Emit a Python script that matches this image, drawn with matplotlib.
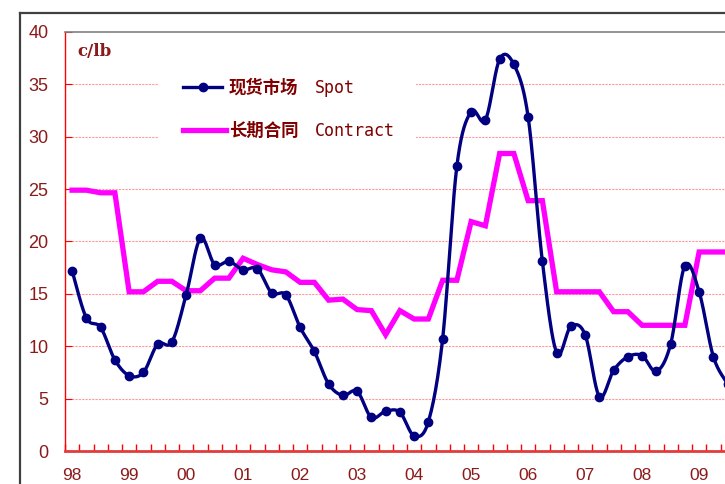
import numpy as np
import matplotlib
matplotlib.use("Agg")
import matplotlib.pyplot as plt
from matplotlib import font_manager
from matplotlib.lines import Line2D
from matplotlib.patches import Rectangle

# ---------------- data ----------------
years = ["98", "99", "00", "01", "02", "03", "04", "05", "06", "07", "08", "09"]
spot = [17.2, 12.7, 11.8, 8.7,
        7.2, 7.5, 10.2, 10.4,
        14.9, 20.3, 17.8, 18.1,
        17.3, 17.4, 15.1, 14.9,
        11.8, 9.5, 6.4, 5.3,
        5.7, 3.2, 3.8, 3.7,
        1.45, 2.8, 10.7, 27.2,
        32.4, 31.6, 37.4, 36.9,
        31.9, 18.1, 9.4, 11.9,
        11.1, 5.2, 7.7, 9.0,
        9.1, 7.6, 10.2, 17.7,
        15.2, 9.0, 6.4]
contract = [24.9, 24.9, 24.65, 24.65,
            15.2, 15.2, 16.2, 16.2,
            15.3, 15.3, 16.5, 16.5,
            18.4, 17.8, 17.3, 17.1,
            16.1, 16.1, 14.4, 14.5,
            13.5, 13.4, 11.1, 13.4,
            12.6, 12.6, 16.3, 16.3,
            21.9, 21.5, 28.4, 28.4,
            23.9, 23.9, 15.2, 15.2,
            15.2, 15.2, 13.3, 13.3,
            12.0, 12.0, 12.0, 12.0,
            19.0, 19.0, 19.0]
yticks = [0, 5, 10, 15, 20, 25, 30, 35, 40]
unit_label = "c/lb"
spot_label_cn, spot_label_en = "现货市场", "Spot"
con_label_cn, con_label_en = "长期合同", "Contract"

# ---------------- fonts ----------------
avail = {f.name for f in font_manager.fontManager.ttflist}
if "Liberation Sans Narrow" in avail:
    narrow = "Liberation Sans Narrow"
elif "Liberation Sans" in avail:
    narrow = "Liberation Sans"
else:
    narrow = "DejaVu Sans"

W, H = 725, 484
fig = plt.figure(figsize=(W / 100, H / 100), dpi=100)

def fx(px):
    return px / W

def fy(py):
    return 1 - py / H

n_cat = 48
ax_left, ax_top, ax_bottom = 65, 32, 451
cat_w = 14.25
ax = fig.add_axes([fx(ax_left), fy(ax_bottom), (n_cat * cat_w) / W, (ax_bottom - ax_top) / H])
ax.set_xlim(-0.5, n_cat - 0.5)
ax.set_ylim(0, 40)

# smoothed spot line (Excel-like smoothing through the data points)
def smooth(y, steps=20):
    y = np.asarray(y, float)
    x = np.arange(len(y), dtype=float)
    xs, ys = [], []
    for i in range(len(y) - 1):
        p0 = i - 1 if i > 0 else i
        p3 = i + 2 if i + 2 < len(y) else i + 1
        c1x = x[i] + (x[i + 1] - x[p0]) / 6
        c1y = y[i] + (y[i + 1] - y[p0]) / 6
        c2x = x[i + 1] - (x[p3] - x[i]) / 6
        c2y = y[i + 1] - (y[p3] - y[i]) / 6
        t = np.linspace(0, 1, steps, endpoint=(i == len(y) - 2))
        b = [(1 - t) ** 3, 3 * (1 - t) ** 2 * t, 3 * (1 - t) * t ** 2, t ** 3]
        xs.append(b[0] * x[i] + b[1] * c1x + b[2] * c2x + b[3] * x[i + 1])
        ys.append(b[0] * y[i] + b[1] * c1y + b[2] * c2y + b[3] * y[i + 1])
    return np.concatenate(xs), np.concatenate(ys)

cats = np.arange(len(spot))
sx, sy = smooth(spot)

# grid
for v in yticks[1:-1]:
    ax.axhline(v, color="#ff9a9a", lw=0.8, ls=(0, (2, 1)), zorder=1)

ax.plot(np.arange(len(contract)), contract, color="#ff00ff", lw=3.8,
        solid_joinstyle="miter", zorder=3, clip_on=False)
ax.plot(sx, sy, color="#000080", lw=2.4, zorder=4, clip_on=False)
ax.plot(cats, spot, ls="none", marker="o", ms=6, color="#000080", zorder=5, clip_on=False)

# spines
ax.spines["right"].set_visible(False)
ax.spines["top"].set_color("#808080")
ax.spines["top"].set_linewidth(1.2)
ax.spines["left"].set_color("#ff0000")
ax.spines["left"].set_linewidth(1.0)
ax.spines["bottom"].set_color("#e03c3c")
ax.spines["bottom"].set_linewidth(2.0)

lab_color = "#8b1a1a"
ax.set_yticks(yticks)
ax.set_yticklabels([str(v) for v in yticks], fontsize=13, color=lab_color, family=narrow)
ax.tick_params(axis="y", direction="in", length=5, color="#ff0000", pad=12)

ax.set_xticks(np.arange(-0.5, n_cat, 1.0))
ax.set_xticklabels([])
ax.tick_params(axis="x", which="major", direction="in", length=5, color="#ff0000", width=1)
ax.set_xticks(np.arange(0, len(years) * 4, 4), minor=True)
ax.set_xticklabels(years, minor=True, fontsize=12.5, color=lab_color, family=narrow)
ax.tick_params(axis="x", which="minor", length=0, pad=12)

# unit label
fig.text(fx(77), fy(52), unit_label, fontsize=12, fontweight="bold", family="DejaVu Serif",
         color=lab_color, va="center", ha="left")

# legend (manual)
leg_bg = Rectangle((fx(158), fy(150)), fx(416) - fx(158), fy(68) - fy(150),
                   transform=fig.transFigure, facecolor="white", edgecolor="none", zorder=2)
ax.add_artist(leg_bg)
leg_bg.set_transform(fig.transFigure)
fig.add_artist(Line2D([fx(183), fx(222)], [fy(87), fy(87)], color="#000080", lw=2.4))
fig.add_artist(Line2D([fx(203)], [fy(87)], color="#000080", marker="o", ms=6, ls="none"))
fig.add_artist(Line2D([fx(183), fx(226)], [fy(130), fy(130)], color="#ff00ff", lw=3.8))
dark = "#800000"
fig.text(fx(229), fy(88), spot_label_cn, fontsize=12.5, fontweight="bold",
         family=["Noto Sans CJK SC", "DejaVu Sans"], color=dark, va="center", ha="left")
fig.text(fx(315), fy(88), spot_label_en, fontsize=12, family="DejaVu Sans Mono",
         color=dark, va="center", ha="left")
fig.text(fx(229), fy(131), con_label_cn, fontsize=12.5, fontweight="bold",
         family=["Noto Sans CJK SC", "DejaVu Sans"], color=dark, va="center", ha="left")
fig.text(fx(315), fy(131), con_label_en, fontsize=12, family="DejaVu Sans Mono",
         color=dark, va="center", ha="left")

# outer frame
fig.add_artist(Line2D([fx(19.5), fx(19.5)], [fy(13), 0], color="#404040", lw=1.6))
fig.add_artist(Line2D([fx(19.5), 1], [fy(13), fy(13)], color="#404040", lw=1.6))

fig.savefig("out.png", dpi=100)
